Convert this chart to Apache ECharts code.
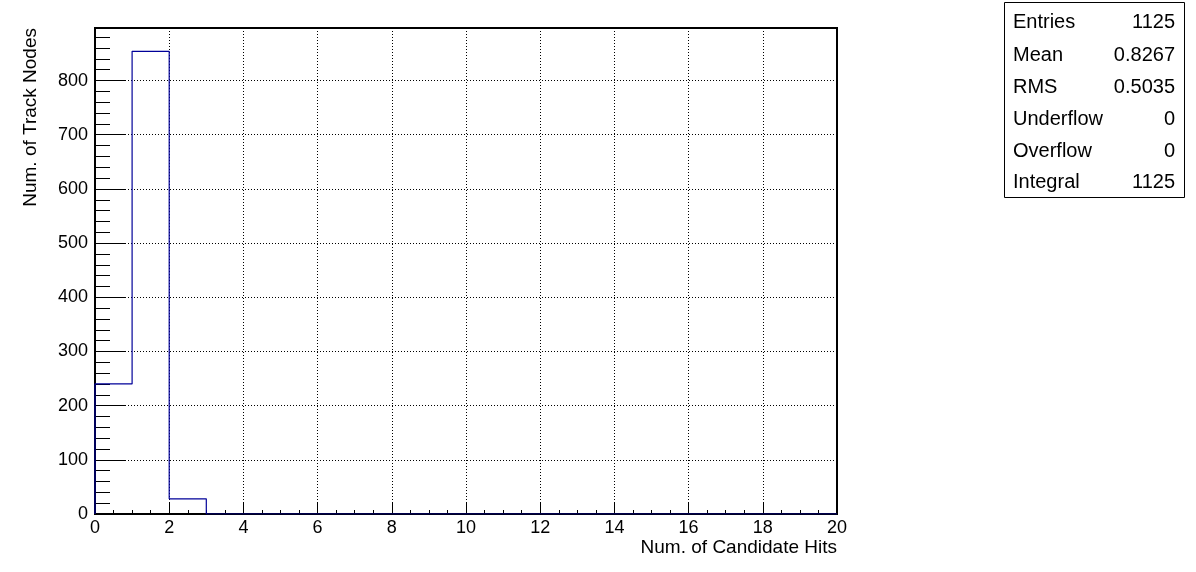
<!DOCTYPE html>
<html>
<head>
<meta charset="utf-8">
<script src="https://cdn.jsdelivr.net/npm/echarts@6/dist/echarts.min.js"></script>
<style>
html,body{margin:0;padding:0;background:#fff;}
#chart{width:1196px;height:572px;}
</style>
</head>
<body>
<div id="chart"></div>
<script>
// Histogram data (bin low edges, bin width 1)
var binLow = [0,1,2,3,4,5,6,7,8,9,10,11,12,13,14,15,16,17,18,19];
var counts = [240,854,28,0,0,0,0,0,0,0,0,0,0,0,0,0,0,0,0,0];
var xTitle = 'Num. of Candidate Hits';
var yTitle = 'Num. of Track Nodes';
var statLabels = ['Entries','Mean','RMS','Underflow','Overflow','Integral'];
var statValues = ['1125','0.8267','0.5035','0','0','1125'];

var stepData = [[binLow[0], 0]];
for (var i = 0; i < binLow.length; i++) stepData.push([binLow[i], counts[i]]);
stepData.push([binLow[binLow.length-1] + 1, 0]);

var FONT = 'Liberation Sans, Arial, Helvetica, sans-serif';
var chart = echarts.init(document.getElementById('chart'));

var graphics = [
  {type:'rect', shape:{x:1004.5, y:2.5, width:180, height:195}, style:{fill:'#fff', stroke:'#000', lineWidth:1}, z:10},
  {type:'text', style:{text:xTitle, x:837, y:548, align:'right', verticalAlign:'middle', font:'19px '+FONT, fill:'#000'}},
  {type:'text', rotation:Math.PI/2, x:31, y:28, style:{text:yTitle, x:0, y:0, align:'right', verticalAlign:'middle', font:'19px '+FONT, fill:'#000'}}
];
var rowY = [22,55,87,119,151,182];
for (var k = 0; k < statLabels.length; k++) {
  graphics.push({type:'text', z:11, style:{text:statLabels[k], x:1013, y:rowY[k], align:'left', verticalAlign:'middle', font:'20px '+FONT, fill:'#000'}});
  graphics.push({type:'text', z:11, style:{text:statValues[k], x:1175, y:rowY[k], align:'right', verticalAlign:'middle', font:'20px '+FONT, fill:'#000'}});
}

chart.setOption({
  animation:false,
  backgroundColor:'#fff',
  grid:{left:95, right:359, top:28, bottom:58, show:true, borderColor:'#000', borderWidth:2, backgroundColor:'transparent'},
  xAxis:{
    type:'value', min:0, max:20, interval:2,
    axisLine:{show:true, onZero:false, lineStyle:{color:'#000', width:2}},
    axisTick:{show:true, inside:true, length:11, lineStyle:{color:'#000', width:1}},
    minorTick:{show:true, splitNumber:4, length:4, lineStyle:{color:'#000', width:1}},
    splitLine:{show:true, lineStyle:{color:'#000', width:1, type:[1,2]}},
    axisLabel:{color:'#000', fontSize:18, fontFamily:FONT, margin:5}
  },
  yAxis:{
    type:'value', min:0, max:897, interval:100,
    axisLine:{show:true, onZero:false, lineStyle:{color:'#000', width:2}},
    axisTick:{show:true, inside:true, length:31, lineStyle:{color:'#000', width:1}},
    minorTick:{show:true, splitNumber:5, length:15, lineStyle:{color:'#000', width:1}},
    splitLine:{show:true, lineStyle:{color:'#000', width:1, type:[1,2]}},
    axisLabel:{color:'#000', fontSize:18, fontFamily:FONT, margin:7, showMaxLabel:false}
  },
  series:[{
    type:'line', step:'end', data:stepData, symbol:'none', z:5,
    lineStyle:{color:'#000099', width:1.2}
  }],
  graphic:graphics
});
</script>
</body>
</html>
